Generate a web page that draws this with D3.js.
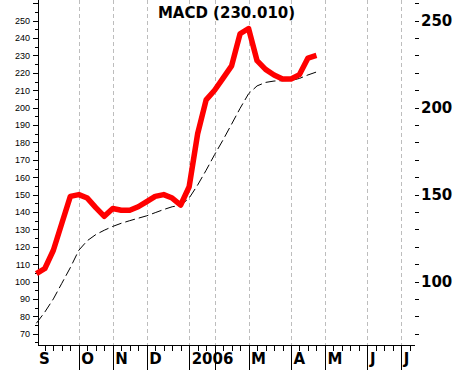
<!DOCTYPE html>
<html>
<head>
<meta charset="utf-8">
<script src="https://cdn.jsdelivr.net/npm/d3@7"></script>
<style>
  body { margin: 0; background: #fff; }
  svg { display: block; }
  .tick line, .domain, .grid line { shape-rendering: crispEdges; }
</style>
</head>
<body>
<div id="chart"></div>
<script>
// weekly MACD values, week 0 = first week of Sep 2005
var macd = [104.5, 107.5, 118, 133.5, 149, 150, 148, 142.5, 137.5, 142, 141, 141, 143, 146,
            149, 150, 148, 144, 154.5, 185, 204.5, 210, 217, 224, 242.5, 245.5, 227, 222,
            218.8, 216.5, 216.5, 219, 228.5, 230];
var signal = [76, 82.5, 90, 99, 108, 118, 123.5, 127, 129.5, 131.7, 133.5, 135, 136.4, 137.8,
              139.6, 141.4, 143, 143.8, 148, 155.5, 164, 173, 181.5, 190.5, 199.6, 208, 212.5, 214.5,
              215.3, 215.5, 215.6, 216.8, 218.8, 220.5];
var monthWeeks = [0, 5, 9, 13, 18, 21, 25, 30, 34, 39, 43];
var monthLabels = ["S", "O", "N", "D", "2006", "", "M", "A", "M", "J", "J"];
var leftTicks = [70, 80, 90, 100, 110, 120, 130, 140, 150, 160, 170, 180, 190, 200, 210, 220, 230, 240, 250];
var rightTicks = [100, 150, 200, 250];
var title = "MACD (230.010)";

var width = 453, height = 370;
var plot = {left: 38, right: 415, top: 0, bottom: 345};

var svg = d3.select("#chart").append("svg")
    .attr("width", width)
    .attr("height", height);

var x = d3.scaleLinear().domain([0.19, 44.61]).range([plot.left, plot.right]);
var y = d3.scaleLinear().domain([63.5, 261.9]).range([plot.bottom, plot.top]);

// month grid lines
svg.append("g").attr("class", "grid").selectAll("line")
    .data(monthWeeks.filter(function(d) { return d > 0; }))
    .enter().append("line")
    .attr("x1", function(d) { return Math.round(x(d)) + 0.5; })
    .attr("x2", function(d) { return Math.round(x(d)) + 0.5; })
    .attr("y1", plot.top)
    .attr("y2", plot.bottom)
    .attr("stroke", "#bdbdbd")
    .attr("stroke-dasharray", "4,3");

// left axis, minor then major
svg.append("g")
    .attr("transform", "translate(" + plot.left + ",0)")
    .call(d3.axisLeft(y).tickValues(d3.range(65, 261, 5)).tickSize(3).tickSizeOuter(0).tickFormat(""))
    .call(function(g) { g.select(".domain").remove(); });

svg.append("g")
    .attr("transform", "translate(" + plot.left + ",0)")
    .call(d3.axisLeft(y).tickValues(leftTicks.concat([260])).tickSize(5).tickPadding(3).tickSizeOuter(0)
      .tickFormat(function(d) { return d == 260 ? "" : d; }))
    .call(function(g) {
      g.select(".domain").attr("d", "M0.5," + plot.top + "V" + plot.bottom);
      g.selectAll("text").attr("font-family", "Liberation Sans, Arial, sans-serif").attr("font-size", 9).attr("fill", "#000");
    });

// right axis, ticks every 10 with bold labels
svg.append("g")
    .attr("transform", "translate(" + plot.right + ",0)")
    .call(d3.axisRight(y).tickValues(d3.range(70, 261, 10)).tickSize(4).tickFormat(""))
    .call(function(g) { g.select(".domain").remove(); });

svg.append("g").selectAll("text")
    .data(rightTicks)
    .enter().append("text")
    .attr("x", plot.right + 6)
    .attr("y", function(d) { return y(d); })
    .attr("dy", "0.36em")
    .attr("font-family", "DejaVu Sans, sans-serif")
    .attr("font-weight", "bold")
    .attr("font-size", 15)
    .text(function(d) { return d; });

// bottom axis: weekly minor ticks, monthly major ticks
svg.append("g")
    .attr("transform", "translate(0," + plot.bottom + ")")
    .call(d3.axisBottom(x).tickValues(d3.range(1, 45).filter(function(w) { return monthWeeks.indexOf(w) < 0; }))
      .tickSize(6).tickSizeOuter(0).tickFormat(""))
    .call(function(g) { g.select(".domain").remove(); });

var xAxis = svg.append("g")
    .attr("transform", "translate(0," + plot.bottom + ")")
    .call(d3.axisBottom(x).tickValues(monthWeeks).tickSize(25).tickSizeOuter(0)
      .tickFormat(function(d, i) { return monthLabels[i]; }));

xAxis.select(".domain").attr("d", "M" + plot.left + ",0.5H" + plot.right);
xAxis.selectAll(".tick").filter(function(d) { return d == 0; }).select("line").remove();
xAxis.selectAll("text")
    .attr("y", 19)
    .attr("dy", 0)
    .attr("x", 2)
    .attr("text-anchor", "start")
    .attr("font-family", "DejaVu Sans, sans-serif")
    .attr("font-weight", "bold")
    .attr("font-size", 15)
    .attr("fill", "#000");

// signal line (dashed) and MACD line (thick red)
var line = d3.line()
    .x(function(d, i) { return x(i); })
    .y(function(d) { return y(d); });

svg.append("path")
    .datum(signal)
    .attr("d", line)
    .attr("fill", "none")
    .attr("stroke", "#000")
    .attr("stroke-width", 1)
    .attr("stroke-dasharray", "10,4");

svg.append("path")
    .datum(macd)
    .attr("d", line)
    .attr("fill", "none")
    .attr("stroke", "#ff0000")
    .attr("stroke-width", 5.5)
    .attr("stroke-linejoin", "round");

svg.append("text")
    .attr("x", (plot.left + plot.right) / 2)
    .attr("y", 18)
    .attr("text-anchor", "middle")
    .attr("font-family", "DejaVu Sans, sans-serif")
    .attr("font-weight", "bold")
    .attr("font-size", 15)
    .text(title);
</script>
</body>
</html>
